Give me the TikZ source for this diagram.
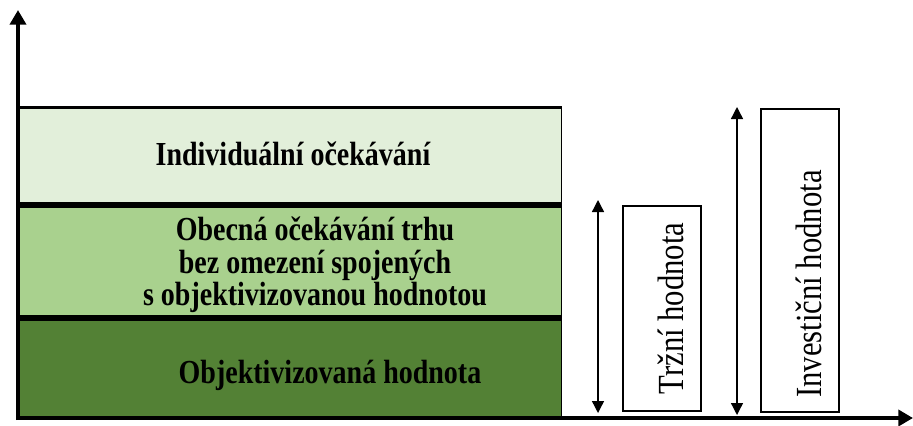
\documentclass[tikz,border=0pt]{standalone}
\usepackage{fontspec}
\setmainfont{Liberation Serif}
\usetikzlibrary{arrows.meta}
\definecolor{layertop}{HTML}{E2EFDA}
\definecolor{layermid}{HTML}{A9D18E}
\definecolor{layerbot}{HTML}{538135}
\newcommand{\tallbox}[1]{\scalebox{1}[1.2]{\begin{tabular}{@{}c@{}}#1\end{tabular}}}
\newcommand{\tallline}[1]{\scalebox{1}[1.2]{#1}}
\begin{document}
\begin{tikzpicture}[x=0.75pt, y=-0.75pt,
    layer/.style={fill=#1, draw=none, inner sep=0pt, minimum width=405.75pt, anchor=north west},
    layertext/.style={font=\bfseries\fontsize{21}{20}\selectfont, align=center, inner sep=0pt},
    valuebox/.style={draw, line width=1.6pt, inner sep=0pt, minimum width=58.5pt, anchor=north west},
    valuetext/.style={rotate=90, anchor=base, font=\fontsize{23}{24}\selectfont, inner sep=0pt},
    axis/.style={line width=3pt, -{Triangle[width=12pt, length=11pt]}},
    span/.style={line width=1pt, {Triangle[width=9pt, length=9pt]}-{Triangle[width=9pt, length=9pt]}}]
    \useasboundingbox (0,0) rectangle (913,425);

    % Layers
    \node[layer=layertop, minimum height=73.5pt] (indiv) at (20,107) {};
    \node[layer=layermid, minimum height=84.75pt] (obecna) at (20,205) {};
    \node[layer=layerbot, minimum height=75pt] (objekt) at (20,318) {};

    % Separators
    \draw[line width=2.25pt] (indiv.north west) -- (indiv.north east);
    \draw[line width=4.5pt] (obecna.north west) -- (obecna.north east);
    \draw[line width=4.5pt] (objekt.north west) -- (objekt.north east);
    \draw[line width=1.2pt] (indiv.north east) -- (objekt.south east);

    % Layer texts
    \node[layertext] (indivtext) at (293,158) {\tallbox{Individuální očekávání}};
    \node[layertext] (obecnatext) at (315,266) {\tallbox{Obecná očekávání trhu\\bez omezení spojených\\s objektivizovanou hodnotou}};
    \node[layertext] (objekttext) at (330,377) {\tallbox{Objektivizovaná hodnota}};

    % Axes
    \coordinate (origin) at (18,420);
    \coordinate (ytop) at (18,10);
    \coordinate (xend) at (913,418);
    \draw[axis] (origin) -- (ytop);
    \draw[axis] (16,418) -- (xend);

    % Market value
    \coordinate (trzitop) at (598,200);
    \coordinate (trzibot) at (598,413);
    \draw[span] (trzitop) -- (trzibot);
    \node[valuebox, minimum height=153.75pt] (trzni) at (622,205) {};
    \node[valuetext] (trznitext) at ([xshift=15.75pt]trzni.center) {\tallline{Tržní hodnota}};

    % Investment value
    \coordinate (invtop) at (737,107);
    \coordinate (invbot) at (737,415);
    \draw[span] (invtop) -- (invbot);
    \node[valuebox, minimum height=227.25pt] (invest) at (760,108) {};
    \node[valuetext] (investtext) at ([xshift=15.75pt, yshift=-17.6pt]invest.center) {\tallline{Investiční hodnota}};
\end{tikzpicture}
\end{document}
